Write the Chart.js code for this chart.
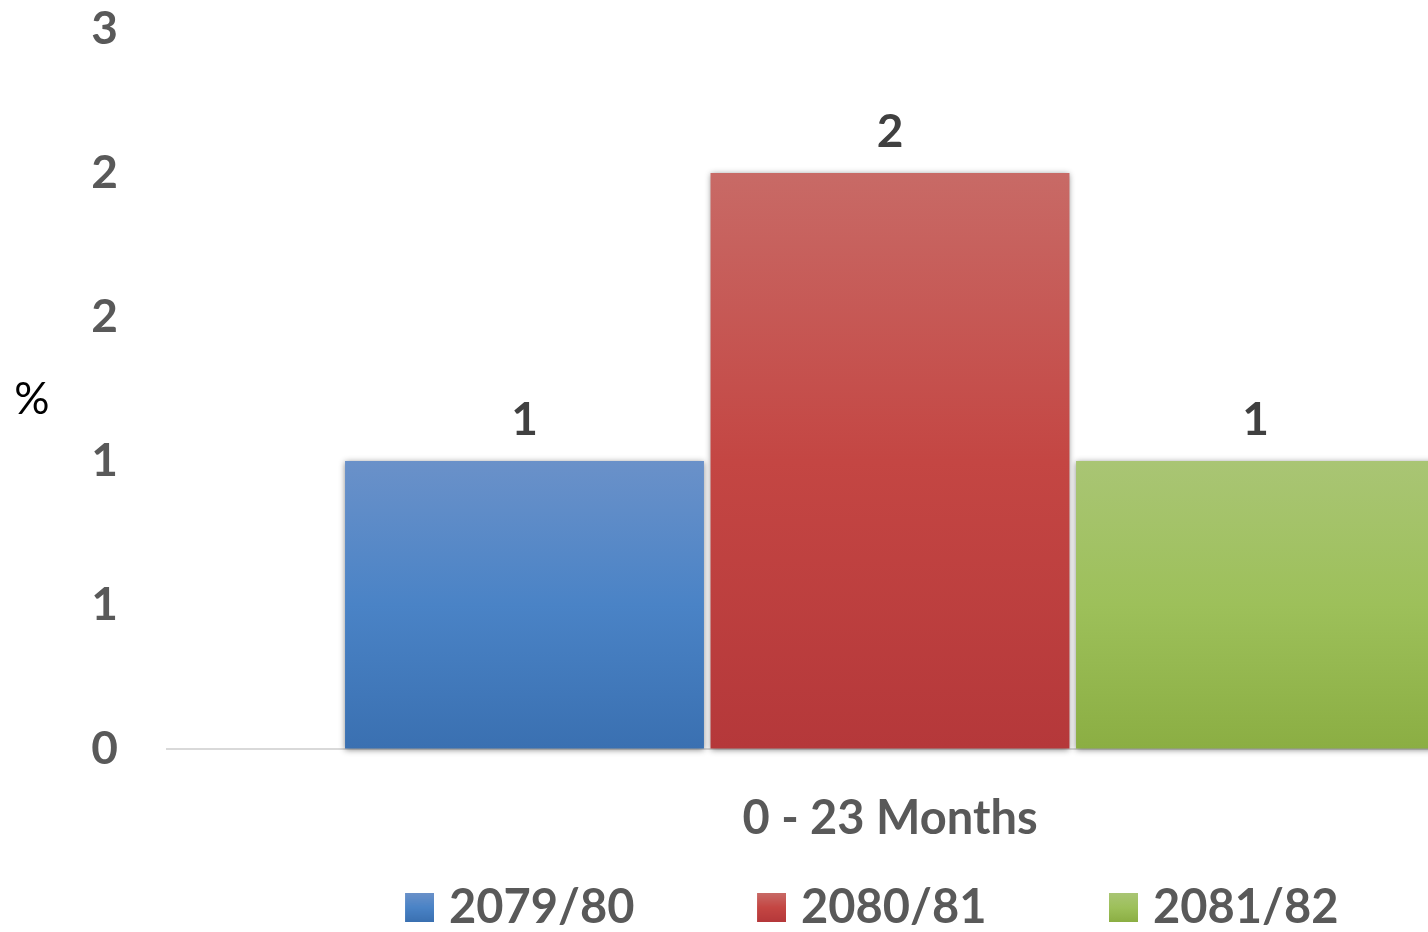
<!DOCTYPE html>
<html><head><meta charset="utf-8">
<script src="https://cdn.jsdelivr.net/npm/chart.js@4/dist/chart.umd.min.js"></script>
<style>html,body{margin:0;padding:0;overflow:hidden;background:#fff;width:1428px;height:932px}canvas{display:block}</style>
</head><body>
<canvas id="c" width="1613" height="941"></canvas>
<script>
const categories = ['0 - 23 Months'];
const seriesNames = ['2079/80', '2080/81', '2081/82'];
const series2079_80 = [1];
const series2080_81 = [2];
const series2081_82 = [1];
const yAxisTitle = '%';
const yMin = 0, yMax = 2.5, yStep = 0.5;

const FONT = 'Lato';
const palettes = [
  ['#6A91C9', '#4A83C6', '#3A70B1'],
  ['#C86A66', '#C44643', '#B5383A'],
  ['#A9C574', '#9DC05A', '#8BAE43']
];
function grad(ctx, p, y0, y1) {
  const g = ctx.createLinearGradient(0, y0, 0, y1);
  g.addColorStop(0, p[0]); g.addColorStop(0.5, p[1]); g.addColorStop(1, p[2]);
  return g;
}
function barFill(i) {
  return (c) => {
    const ch = c.chart;
    if (!ch.chartArea || !c.parsed) return palettes[i][1];
    const ys = ch.scales.y;
    return grad(ch.ctx, palettes[i], ys.getPixelForValue(c.parsed.y), ys.getPixelForValue(0));
  };
}

// legend geometry
const LEG_FONT = 47, LEG_PAD = 10, SWATCH = 29, SWATCH_GAP = 15, ITEM_PITCH = 351.5;
const mctx = document.createElement('canvas').getContext('2d');
mctx.font = 'bold ' + LEG_FONT + 'px ' + FONT;
const legTextW = Math.max(...seriesNames.map(s => mctx.measureText(s).width));
const PSW = Math.round(ITEM_PITCH - LEG_FONT / 2 - legTextW - LEG_PAD);
const shiftR = LEG_FONT / 2 - SWATCH_GAP;
const icons = palettes.map(p => {
  const cv = document.createElement('canvas');
  cv.width = Math.round(PSW + 2 * shiftR); cv.height = SWATCH;
  const x = cv.getContext('2d');
  x.fillStyle = grad(x, p, 0, SWATCH);
  x.fillRect(cv.width - SWATCH, 0, SWATCH, SWATCH);
  return cv;
});

const decor = {
  id: 'decor',
  beforeDatasetsDraw(chart) {
    const c = chart.ctx;
    c.save();
    c.shadowColor = 'rgba(0,0,0,0.45)';
    c.shadowBlur = 6;
    c.shadowOffsetX = 0;
    c.shadowOffsetY = 1;
  },
  afterDatasetsDraw(chart) {
    const c = chart.ctx;
    c.restore();
    c.save();
    c.font = 'bold 46px ' + FONT;
    c.fillStyle = '#404040';
    c.textAlign = 'center';
    c.textBaseline = 'alphabetic';
    chart.data.datasets.forEach((ds, di) => {
      const meta = chart.getDatasetMeta(di);
      meta.data.forEach((bar, j) => {
        c.fillText(String(ds.data[j]), bar.x, bar.y - 26);
      });
    });
    c.restore();
  },
  afterDraw(chart) {
    const c = chart.ctx, a = chart.chartArea;
    c.save();
    c.font = '44px ' + FONT;
    c.fillStyle = '#000000';
    c.textAlign = 'center';
    c.textBaseline = 'middle';
    c.fillText(yAxisTitle, 32, (a.top + a.bottom) / 2 + 11);
    c.restore();
  }
};
const hidden = 'rgba(0,0,0,0)';
new Chart(document.getElementById('c'), {
  type: 'bar',
  data: {
    labels: categories,
    datasets: [
      { label: seriesNames[0], data: series2079_80, backgroundColor: barFill(0), borderWidth: 0, clip: false },
      { label: seriesNames[1], data: series2080_81, backgroundColor: barFill(1), borderWidth: 0, clip: false },
      { label: seriesNames[2], data: series2081_82, backgroundColor: barFill(2), borderWidth: 0, clip: false }
    ]
  },
  options: {
    responsive: false,
    animation: false,
    devicePixelRatio: 1,
    datasets: { bar: { categoryPercentage: 0.7583, barPercentage: 0.982 } },
    layout: { padding: { left: 18, top: 29, right: 0, bottom: 0 } },
    plugins: {
      legend: {
        position: 'bottom',
        labels: {
          font: { family: FONT, size: LEG_FONT, weight: 'bold' }, color: '#595959',
          usePointStyle: true, pointStyleWidth: PSW, padding: LEG_PAD,
          generateLabels(chart) {
            const items = Chart.defaults.plugins.legend.labels.generateLabels(chart);
            items.forEach(it => { it.pointStyle = icons[it.datasetIndex]; it.lineWidth = 0; });
            return items;
          }
        }
      },
      tooltip: { enabled: false }
    },
    scales: {
      x: {
        grid: { display: true, drawOnChartArea: false, drawTicks: true, tickLength: 42, color: hidden },
        border: { display: true, color: '#D9D9D9', width: 2 },
        ticks: { font: { family: FONT, size: 47, weight: 'bold' }, color: '#595959', padding: 0 },
        afterFit(s) { s.height = 125; }
      },
      y: {
        min: yMin, max: yMax,
        grid: { display: true, drawOnChartArea: false, drawTicks: true, tickLength: 49, color: hidden },
        border: { display: false },
        ticks: { stepSize: yStep, font: { family: FONT, size: 46, weight: 'bold' }, color: '#595959', padding: 0,
          callback: (v) => String(Math.round(v)) },
        afterFit(s) { s.width = 149; }
      }
    }
  },
  plugins: [decor]
});
</script>
</body></html>
